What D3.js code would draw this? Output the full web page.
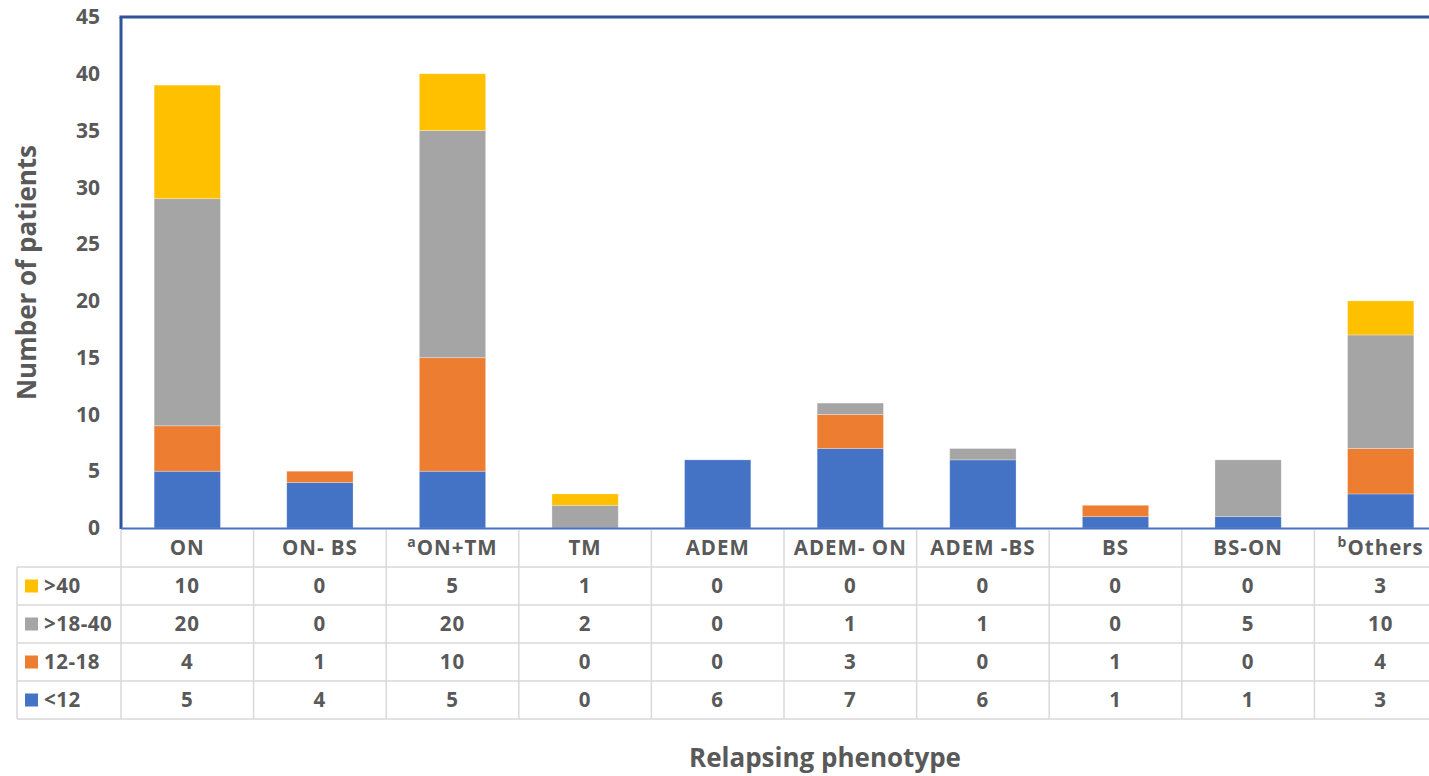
<!DOCTYPE html>
<html>
<head>
<meta charset="utf-8">
<script src="https://cdn.jsdelivr.net/npm/d3@7"></script>
<style>
  html, body { margin: 0; padding: 0; background: #fff; }
  svg { display: block; font-family: "Open Sans", "Noto Sans", sans-serif; }
</style>
</head>
<body>
<svg id="chart" width="1429" height="776"></svg>
<script>
// Relapsing phenotype categories (superscript prefix kept separately)
const categories = ["ON", "ON- BS", "ON+TM", "TM", "ADEM", "ADEM- ON", "ADEM -BS", "BS", "BS-ON", "Others"];
const superscripts = ["", "", "a", "", "", "", "", "", "", "b"];

// Age groups, from bottom of the stack to the top
const seriesNames = ["<12", "12-18", ">18-40", ">40"];
const seriesColors = ["#4472C4", "#ED7D31", "#A5A5A5", "#FFC000"];

const valuesUnder12 = [5, 4, 5, 0, 6, 7, 6, 1, 1, 3];
const values12to18  = [4, 1, 10, 0, 0, 3, 0, 1, 0, 4];
const values18to40  = [20, 0, 20, 2, 0, 1, 1, 0, 5, 10];
const valuesOver40  = [10, 0, 5, 1, 0, 0, 0, 0, 0, 3];

const yTicks = [0, 5, 10, 15, 20, 25, 30, 35, 40, 45];

const seriesValues = [valuesUnder12, values12to18, values18to40, valuesOver40];
const rows = categories.map((c, i) => {
  const r = { cat: c };
  seriesNames.forEach((s, k) => r[s] = seriesValues[k][i]);
  return r;
});

const svg = d3.select("#chart");
const plotLeft = 121, plotTop = 17, plotBottom = 528;
const colStep = 132.6;
const plotRight = plotLeft + colStep * categories.length;

const x = d3.scaleBand()
  .domain(categories)
  .range([plotLeft, plotRight])
  .paddingInner(0.5)
  .paddingOuter(0.25);

const y = d3.scaleLinear().domain([0, 45]).range([plotBottom, plotTop]);

const textColor = "#595959";
const cellFont = 20.5, cellSpacing = 1;

// Stacked bars
const stack = d3.stack().keys(seriesNames);
const layers = stack(rows);
svg.append("g").selectAll("g")
  .data(layers)
  .join("g")
  .attr("fill", (d, i) => seriesColors[i])
  .selectAll("rect")
  .data(d => d.filter(p => p[1] > p[0]))
  .join("rect")
  .attr("x", d => x(d.data.cat))
  .attr("width", x.bandwidth())
  .attr("y", d => y(d[1]))
  .attr("height", d => y(d[0]) - y(d[1]))
  .attr("stroke", "#ffffff")
  .attr("stroke-opacity", 0.35)
  .attr("stroke-width", 0.8);

// Y axis tick labels
const yAxis = d3.axisLeft(y).tickValues(yTicks).tickSize(0).tickPadding(21);
const yg = svg.append("g").attr("transform", `translate(${plotLeft},0)`).call(yAxis);
yg.select(".domain").remove();
yg.selectAll("text")
  .attr("fill", textColor)
  .attr("font-size", 21)
  .attr("font-weight", "bold")
  .attr("font-family", "'Open Sans', sans-serif");

// Plot frame: left, top and baseline
svg.append("line").attr("x1", plotLeft).attr("x2", plotLeft)
  .attr("y1", plotTop).attr("y2", plotBottom + 1)
  .attr("stroke", "#2F5597").attr("stroke-width", 3);
svg.append("line").attr("x1", plotLeft - 1.5).attr("x2", plotRight)
  .attr("y1", plotTop).attr("y2", plotTop)
  .attr("stroke", "#2F5597").attr("stroke-width", 3);
svg.append("line").attr("x1", plotLeft).attr("x2", plotRight)
  .attr("y1", y(0) + 0.5).attr("y2", y(0) + 0.5)
  .attr("stroke", "#4472C4").attr("stroke-width", 2);

// Data table below the plot
const headerTop = 529, rowH = 38, tableLeft = 17;
const gridColor = "#D9D9D9";
const table = svg.append("g");
const tableRows = seriesNames.slice().reverse(); // >40 first
const tableBottom = headerTop + rowH + tableRows.length * rowH;

// vertical lines between columns
d3.range(categories.length + 1).forEach(i => {
  const xv = plotLeft + i * colStep;
  table.append("line").attr("x1", xv).attr("x2", xv)
    .attr("y1", headerTop + 1).attr("y2", tableBottom)
    .attr("stroke", gridColor).attr("stroke-width", 1.5);
});
table.append("line").attr("x1", tableLeft).attr("x2", tableLeft)
  .attr("y1", headerTop + rowH).attr("y2", tableBottom)
  .attr("stroke", gridColor).attr("stroke-width", 1.5);
// horizontal lines
d3.range(tableRows.length + 1).forEach(r => {
  const yv = headerTop + rowH + r * rowH;
  table.append("line").attr("x1", tableLeft).attr("x2", plotRight)
    .attr("y1", yv).attr("y2", yv)
    .attr("stroke", gridColor).attr("stroke-width", 1.5);
});

// header labels
const header = table.selectAll("text.hdr")
  .data(categories)
  .join("text")
  .attr("class", "hdr")
  .attr("x", d => x(d) + x.bandwidth() / 2)
  .attr("y", headerTop + rowH / 2 + 7)
  .attr("text-anchor", "middle")
  .attr("fill", textColor)
  .attr("font-size", cellFont)
  .attr("letter-spacing", cellSpacing)
  .attr("font-weight", "bold");
header.each(function(d, i) {
  const t = d3.select(this);
  if (superscripts[i]) {
    t.append("tspan").attr("font-size", 14).attr("dy", -8).text(superscripts[i]);
    t.append("tspan").attr("dy", 8).text(d);
  } else {
    t.text(d);
  }
});

// value rows with legend keys
tableRows.forEach((name, r) => {
  const k = seriesNames.indexOf(name);
  const cy = headerTop + rowH + r * rowH + rowH / 2;
  table.append("rect").attr("x", 25).attr("y", cy - 6.5)
    .attr("width", 13).attr("height", 13).attr("fill", seriesColors[k]);
  table.append("text").attr("x", 44).attr("y", cy + 7)
    .attr("fill", textColor).attr("font-size", cellFont).attr("font-weight", "bold")
    .attr("letter-spacing", 0.5)
    .text(name);
  table.selectAll(null)
    .data(rows)
    .join("text")
    .attr("x", d => x(d.cat) + x.bandwidth() / 2)
    .attr("y", cy + 7)
    .attr("text-anchor", "middle")
    .attr("fill", textColor).attr("font-size", cellFont).attr("font-weight", "bold")
    .attr("letter-spacing", cellSpacing)
    .text(d => d[name]);
});

// Axis titles
svg.append("text")
  .attr("transform", `translate(36,${(plotTop + plotBottom) / 2}) rotate(-90)`)
  .attr("text-anchor", "middle")
  .attr("fill", textColor).attr("font-size", 26).attr("font-weight", "bold")
  .text("Number of patients");
svg.append("text")
  .attr("x", 825).attr("y", 767)
  .attr("text-anchor", "middle")
  .attr("fill", textColor).attr("font-size", 26).attr("font-weight", "bold")
  .text("Relapsing phenotype");
</script>
</body>
</html>
